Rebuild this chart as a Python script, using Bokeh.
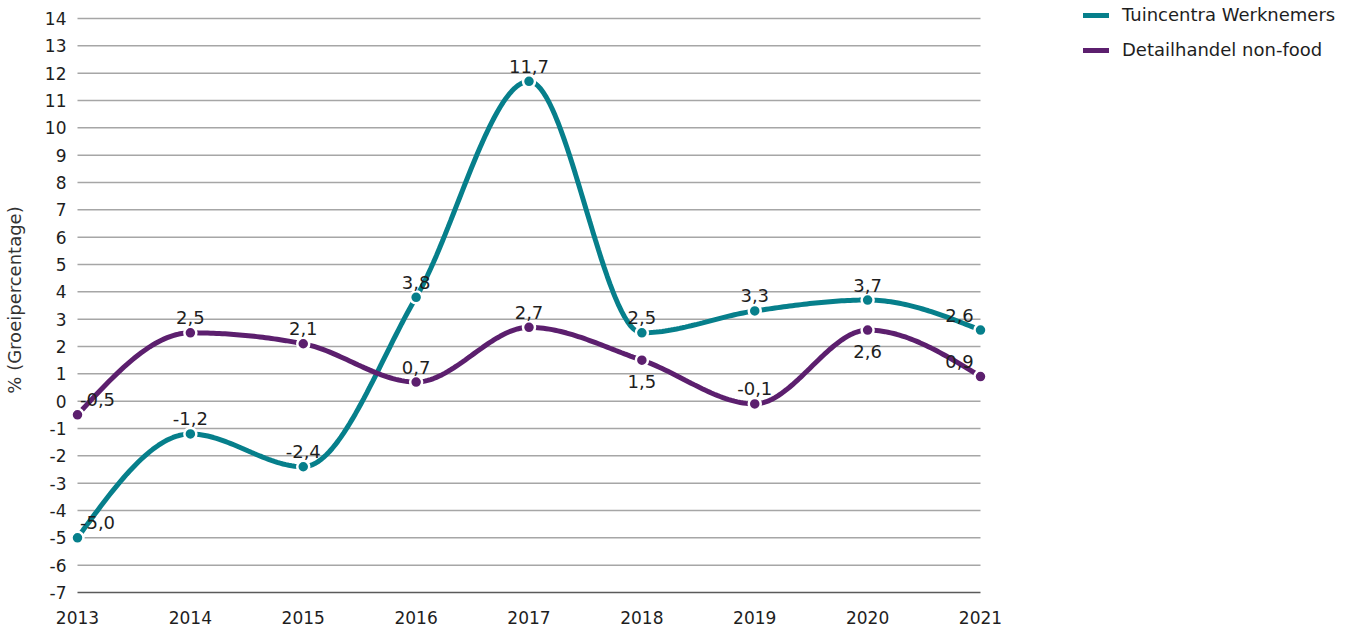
import numpy as np
from bokeh.plotting import figure
from bokeh.models import ColumnDataSource, FixedTicker, Legend, LegendItem, Range1d
from bokeh.embed import file_html
from bokeh.resources import INLINE
from bokeh.core.properties import value

# ---------------- data ----------------
years = [2013, 2014, 2015, 2016, 2017, 2018, 2019, 2020, 2021]
tuincentra = [-5.0, -1.2, -2.4, 3.8, 11.7, 2.5, 3.3, 3.7, 2.6]
detailhandel = [-0.5, 2.5, 2.1, 0.7, 2.7, 1.5, -0.1, 2.6, 0.9]
series_names = ["Tuincentra Werknemers", "Detailhandel non-food"]
y_ticks = list(range(-7, 15))
y_axis_title = "% (Groeipercentage)"

# label placement (style): True = label below the point
tuin_below = [False] * 9
detail_below = [False, False, False, False, False, True, False, True, False]

TEAL = "#067f8b"
PURPLE = "#5c1f6e"
FONT = "DejaVu Sans"


def monotone_curve(xs, ys, n=40):
    """Monotone cubic (d3 curveMonotoneX style) sampled points."""
    x = np.asarray(xs, float)
    y = np.asarray(ys, float)
    N = len(x)
    h = np.diff(x)
    s = np.diff(y) / h
    t = np.zeros(N)
    sg = lambda v: -1.0 if v < 0 else 1.0
    for i in range(1, N - 1):
        p = (s[i - 1] * h[i] + s[i] * h[i - 1]) / (h[i - 1] + h[i])
        t[i] = (sg(s[i - 1]) + sg(s[i])) * min(abs(s[i - 1]), abs(s[i]), 0.5 * abs(p))
    t[0] = (3 * s[0] - t[1]) / 2
    t[-1] = (3 * s[-1] - t[-2]) / 2
    cx, cy = [], []
    u = np.linspace(0, 1, n)
    for i in range(N - 1):
        p0 = y[i]
        p1 = y[i] + h[i] * t[i] / 3
        p2 = y[i + 1] - h[i] * t[i + 1] / 3
        p3 = y[i + 1]
        yy = (1 - u) ** 3 * p0 + 3 * (1 - u) ** 2 * u * p1 + 3 * (1 - u) * u ** 2 * p2 + u ** 3 * p3
        xx = x[i] + u * h[i]
        if i > 0:
            xx, yy = xx[1:], yy[1:]
        cx.extend(xx.tolist())
        cy.extend(yy.tolist())
    return cx, cy


# ---------------- layout (pixels) ----------------
FIRST_YEAR_PX = 77      # x pixel of first year
PX_PER_YEAR = 112.875
TOP_TICK_PX = 18        # y pixel of top tick
PX_PER_UNIT = 27.333
FRAME_L, FRAME_R = 69, 1351
FRAME_T, FRAME_B = 5, 594

x_start = years[0] - (FIRST_YEAR_PX - FRAME_L) / PX_PER_YEAR
x_end = years[0] + (FRAME_R - FIRST_YEAR_PX) / PX_PER_YEAR
y_end = y_ticks[-1] + (TOP_TICK_PX - FRAME_T) / PX_PER_UNIT
bottom_tick_px = TOP_TICK_PX + (y_ticks[-1] - y_ticks[0]) * PX_PER_UNIT
y_start = y_ticks[0] - (FRAME_B - bottom_tick_px) / PX_PER_UNIT

p = figure(
    frame_width=FRAME_R - FRAME_L, frame_height=FRAME_B - FRAME_T,
    output_backend="svg", toolbar_location=None,
    x_range=Range1d(x_start, x_end),
    y_range=Range1d(y_start, y_end),
    min_border_left=FRAME_L, min_border_right=0, min_border_top=FRAME_T, min_border_bottom=34,
)
p.outline_line_color = None
p.xgrid.visible = False
p.ygrid.visible = False

# gridlines spanning the data years
grid_src = ColumnDataSource(dict(y=y_ticks[1:]))
p.segment(x0=years[0], x1=years[-1], y0="y", y1="y", source=grid_src,
          line_color="#a6a6a6", line_width=1.5)
p.segment(x0=[years[0]], x1=[years[-1]], y0=[y_ticks[0]], y1=[y_ticks[0]],
          line_color="#5a5a5a", line_width=1.5)

# axes
for ax in (p.xaxis[0], p.yaxis[0]):
    ax.axis_line_color = None
    ax.major_tick_line_color = None
    ax.minor_tick_line_color = None
    ax.major_label_text_font = FONT
    ax.major_label_text_font_size = "17px"
    ax.major_label_text_color = "#1e1e1e"
p.xaxis.ticker = FixedTicker(ticks=years)
p.xaxis.major_label_standoff = 10
p.yaxis.ticker = FixedTicker(ticks=y_ticks)
p.yaxis.major_label_overrides = {t: str(t) for t in y_ticks}
p.yaxis.major_label_standoff = -3
p.yaxis.axis_label = y_axis_title
p.yaxis.axis_label_text_font = FONT
p.yaxis.axis_label_text_font_size = "18px"
p.yaxis.axis_label_text_font_style = "normal"
p.yaxis.axis_label_text_color = "#333333"
p.yaxis.axis_label_standoff = 17

legend_items = []
for name, vals, below, color in [
    (series_names[0], tuincentra, tuin_below, TEAL),
    (series_names[1], detailhandel, detail_below, PURPLE),
]:
    cx, cy = monotone_curve(years, vals)
    r = p.line(cx, cy, line_color=color, line_width=5, line_cap="round")
    p.scatter(years, vals, size=12, fill_color=color, line_color="white", line_width=2.5)
    legend_items.append(LegendItem(label=name, renderers=[r]))

    n = len(years)
    xo = [20 if i == 0 else (-21 if i == n - 1 else 0) for i in range(n)]
    yo = [21 if b else -15 for b in below]
    src = ColumnDataSource(dict(
        x=years, y=vals,
        t=[f"{v:.1f}".replace(".", ",") for v in vals],
        xo=xo, yo=yo,
    ))
    p.text(x="x", y="y", text="t", x_offset="xo", y_offset="yo", source=src,
           text_align="center", text_baseline="middle",
           text_font=value(FONT), text_font_size="18px", text_color="#1e1e1e")

legend = Legend(items=legend_items, location=(1083 - FRAME_L, FRAME_B - 60))
legend.background_fill_alpha = 0
legend.border_line_alpha = 0
legend.padding = 0
legend.margin = 0
legend.spacing = 14
legend.label_height = 16
legend.glyph_height = 16
legend.glyph_width = 26
legend.label_standoff = 13
legend.label_text_font = FONT
legend.label_text_font_size = "18px"
legend.label_text_color = "#1e1e1e"
p.add_layout(legend, "center")

open("out.html", "w").write(file_html(p, INLINE))
